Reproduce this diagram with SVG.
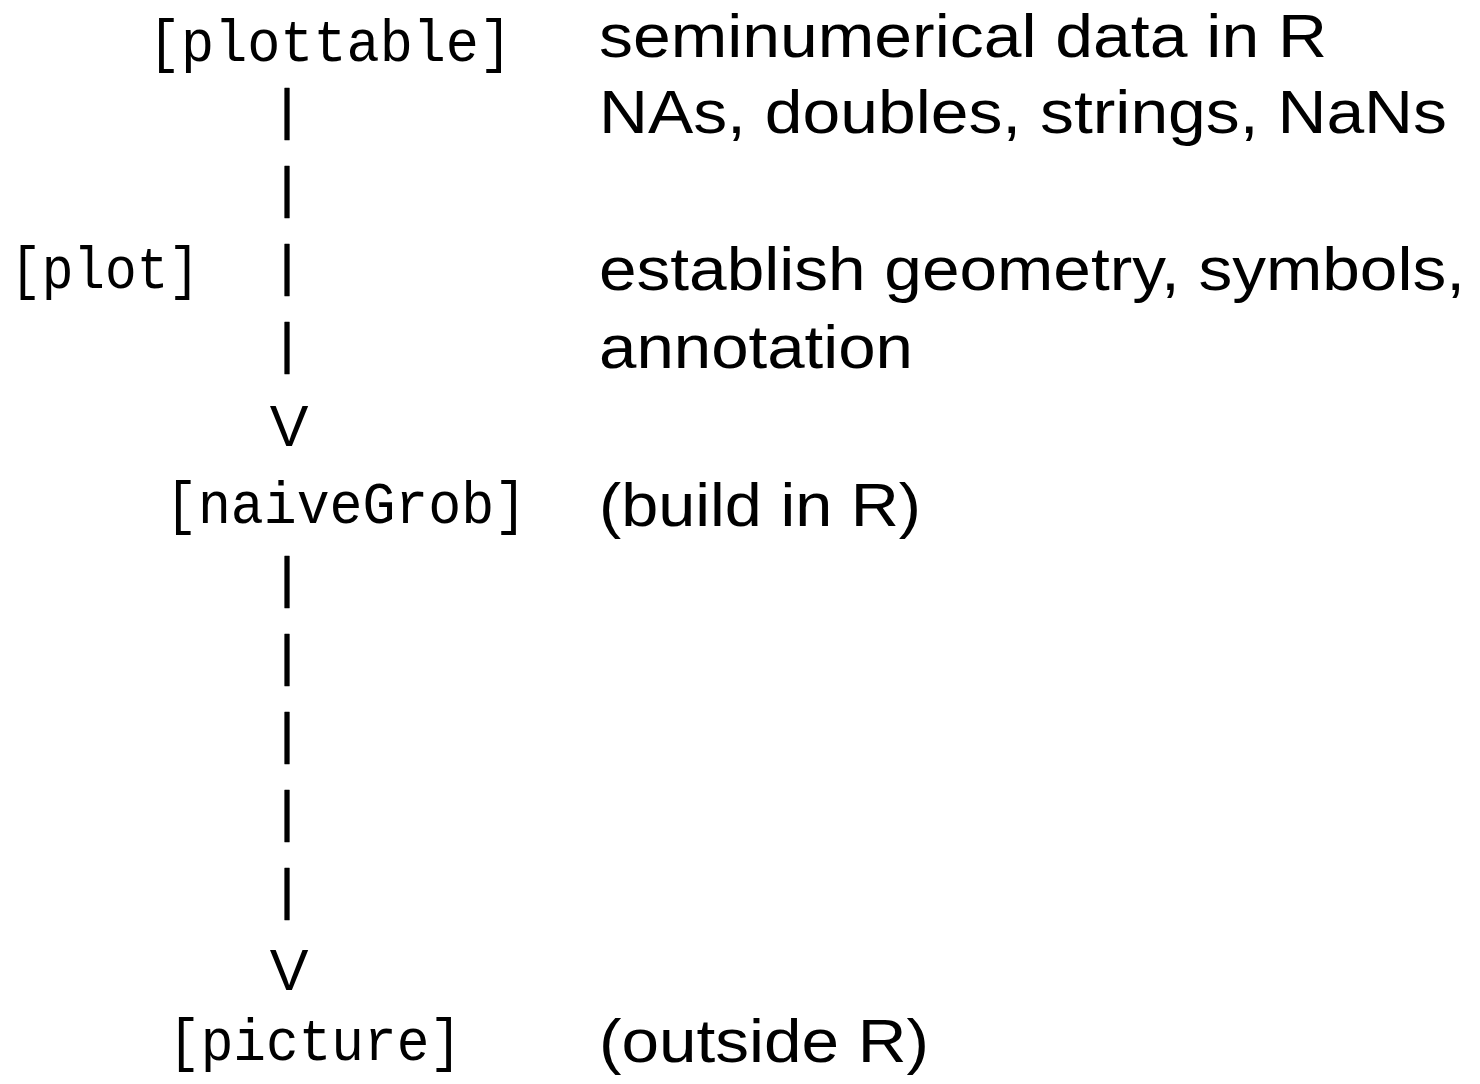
<svg xmlns="http://www.w3.org/2000/svg" width="1480" height="1084" viewBox="0 0 1480 1084">
<style>
.mono{font-family:"Liberation Mono","DejaVu Sans Mono",monospace;font-size:60px;fill:#000}
.sans{font-family:"Liberation Sans",Arial,Helvetica,sans-serif;font-size:62px;fill:#000}
.bar{font-family:"Liberation Sans",Arial,Helvetica,sans-serif;font-size:56px;fill:#000;text-anchor:middle;stroke:#000;stroke-width:0.5px;stroke-linejoin:round}
.vee{font-family:"Liberation Sans",Arial,Helvetica,sans-serif;font-size:58px;fill:#000;text-anchor:middle}
</style>
<rect width="1480" height="1084" fill="#fff"/>
<g id="node-plottable">
<text class="mono" x="148" y="61" textLength="364" lengthAdjust="spacingAndGlyphs">[plottable]</text>
<text class="sans" x="599" y="57" textLength="728" lengthAdjust="spacingAndGlyphs">seminumerical data in R</text>
<text class="sans" x="599" y="133" textLength="848" lengthAdjust="spacingAndGlyphs">NAs, doubles, strings, NaNs</text>
</g>
<g id="node-plot">
<text class="mono" x="10" y="288" textLength="190" lengthAdjust="spacingAndGlyphs">[plot]</text>
<text class="sans" x="599" y="290" textLength="866" lengthAdjust="spacingAndGlyphs">establish geometry, symbols,</text>
<text class="sans" x="599" y="368" textLength="314" lengthAdjust="spacingAndGlyphs">annotation</text>
</g>
<g id="node-naiveGrob">
<text class="mono" x="165" y="523" textLength="362" lengthAdjust="spacingAndGlyphs">[naiveGrob]</text>
<text class="sans" x="599" y="526" textLength="322" lengthAdjust="spacingAndGlyphs">(build in R)</text>
</g>
<g id="node-picture">
<text class="mono" x="168" y="1060" textLength="294" lengthAdjust="spacingAndGlyphs">[picture]</text>
<text class="sans" x="599" y="1062" textLength="330" lengthAdjust="spacingAndGlyphs">(outside R)</text>
</g>
<g id="connectors">
<text class="bar" x="287" y="128">|</text>
<text class="bar" x="287" y="206">|</text>
<text class="bar" x="287" y="284">|</text>
<text class="bar" x="287" y="362">|</text>
<text class="vee" x="289" y="446">V</text>
<text class="bar" x="287" y="596">|</text>
<text class="bar" x="287" y="674">|</text>
<text class="bar" x="287" y="752">|</text>
<text class="bar" x="287" y="830">|</text>
<text class="bar" x="287" y="908">|</text>
<text class="vee" x="289" y="990">V</text>
</g>
</svg>
